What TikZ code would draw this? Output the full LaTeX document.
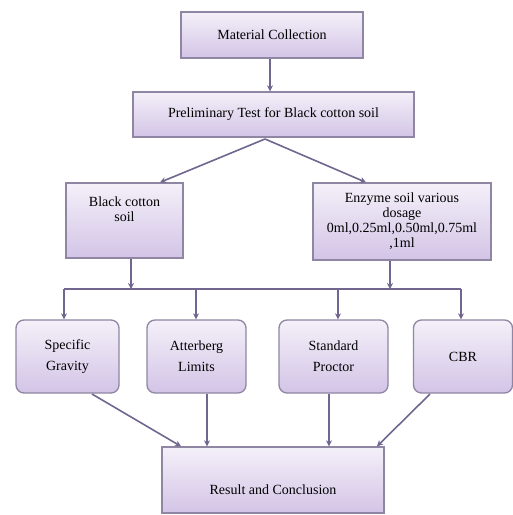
\documentclass[tikz,border=0pt]{standalone}
\usepackage{fontspec}
\setmainfont{Liberation Serif}
\usetikzlibrary{arrows.meta}
\definecolor{boxtop}{HTML}{F4F0F9}
\definecolor{boxbot}{HTML}{D3C4E6}
\definecolor{boxline}{HTML}{8E86A2}
\definecolor{arrc}{HTML}{70668F}
\tikzset{
  box/.style={draw=boxline, line width=1.3pt, top color=boxtop, bottom color=boxbot, inner sep=0pt, align=center, font=\fontsize{14}{15}\selectfont},
  rbox/.style={box, rounded corners=8pt, font=\fontsize{14}{21}\selectfont},
  lbl/.style={inner sep=0pt, align=center, font=\fontsize{14}{15}\selectfont},
  conn/.style={draw=arrc, line width=1.6pt},
  arrow/.style={conn, -{Stealth[length=6pt,width=6pt]}},
}
\begin{document}
\begin{tikzpicture}[x=1pt,y=-1pt]
\useasboundingbox (0,0) rectangle (513,515);
\fill[white] (0,0) rectangle (513,515);
\node[box, minimum width=182pt, minimum height=46pt] (mc) at (272,35) {Material Collection};
\node[box, minimum width=281pt, minimum height=45pt] (pre) at (273.5,114.5) {Preliminary Test for Black cotton soil};
\node[box, minimum width=117pt, minimum height=75pt] (bc) at (124.5,220.5) {};
\node[lbl] (bct) at (124.5,209) {Black cotton\\soil};
\node[box, minimum width=178pt, minimum height=77pt] (en) at (402,221.5) {Enzyme soil various\\dosage\\0ml,0.25ml,0.50ml,0.75ml\\,1ml};
\node[rbox, minimum width=103pt, minimum height=73pt] (sg) at (67.5,356.5) {Specific\\Gravity};
\node[rbox, minimum width=99pt, minimum height=73pt] (al) at (196.5,356.5) {Atterberg\\Limits};
\node[rbox, minimum width=109pt, minimum height=73pt] (sp) at (333.5,356.5) {Standard\\Proctor};
\node[rbox, minimum width=99pt, minimum height=73pt] (cbr) at (463,356.5) {CBR};
\node[box, minimum width=222pt, minimum height=66pt] (rc) at (273,480) {};
\node[lbl] (rct) at (273,490) {Result and Conclusion};
% connectors
\draw[arrow] (mc.south -| 270,0) -- (pre.north -| 270,0);
\coordinate (split) at (265,139);
\draw[arrow] (split) -- (bc.north -| 160,0);
\draw[arrow] (split) -- (en.north -| 366,0);
\coordinate (busL) at (64,289);
\coordinate (busR) at (461,289);
\draw[conn] (busL) -- (busR);
\draw[arrow] (bc.south -| 131,0) -- (131,289);
\draw[arrow] (en.south -| 390,0) -- (390,289);
\draw[arrow] (busL) -- (sg.north -| 64,0);
\draw[arrow] (196,289) -- (al.north -| 196,0);
\draw[arrow] (338,289) -- (sp.north -| 338,0);
\draw[arrow] (busR) -- (cbr.north -| 461,0);
\draw[arrow] (92,394) -- (rc.north -| 181,0);
\draw[arrow] (al.south -| 207,0) -- (rc.north -| 207,0);
\draw[arrow] (sp.south -| 329,0) -- (rc.north -| 329,0);
\draw[arrow] (430,394) -- (rc.north -| 377,0);
\end{tikzpicture}
\end{document}
